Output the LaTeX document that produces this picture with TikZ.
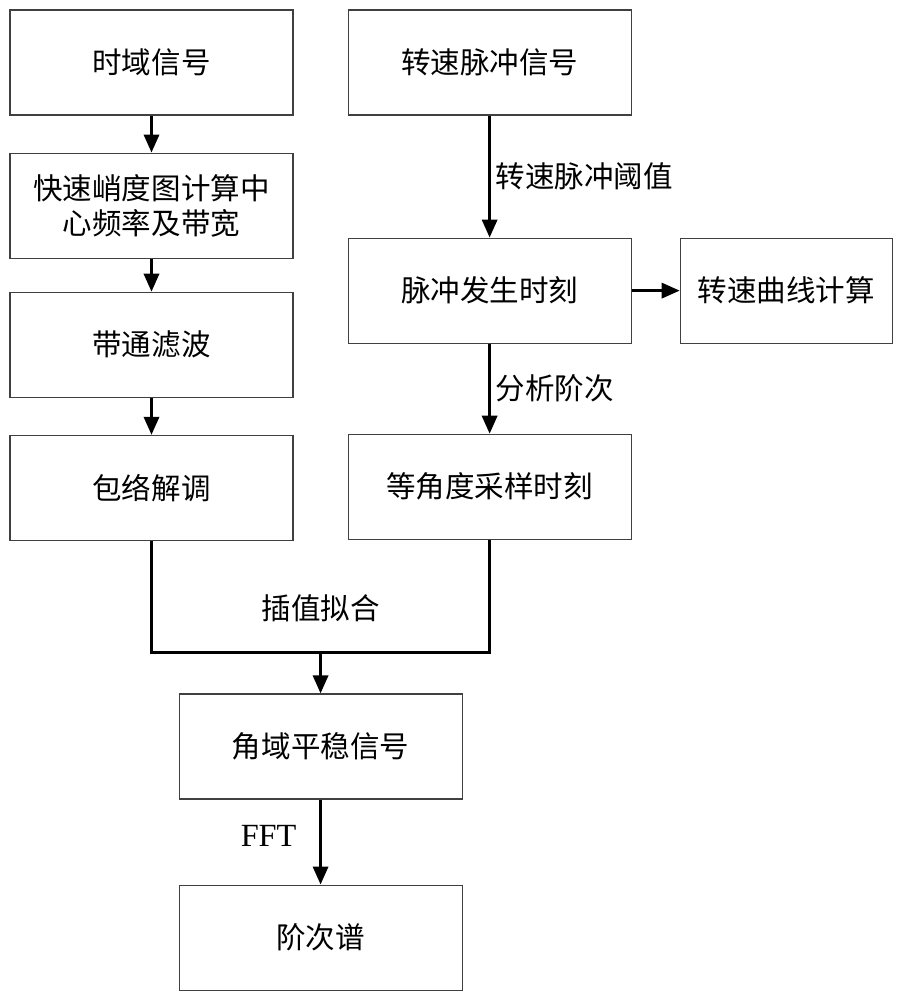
\documentclass[tikz,border=0pt]{standalone}
\usepackage{fontspec}
\setmainfont{Liberation Serif}
\newfontfamily\cjk{Noto Sans CJK SC}
\usetikzlibrary{arrows.meta, positioning, calc}

\begin{document}
\begin{tikzpicture}[
        node distance=1cm and 1.2cm,
        box/.style={rectangle, draw=black!75, line width=0.8pt, minimum width=7.075cm, minimum height=2.625cm, align=center, font=\cjk\fontsize{21}{25}\selectfont},
        lbl/.style={font=\cjk\fontsize{21}{25}\selectfont},
        arrow/.style={-{Triangle[length=0.45cm, width=0.38cm]}, line width=2pt},
        line/.style={line width=2pt}
    ]
        \useasboundingbox (0,0) rectangle (22.525,-25);

        % 1. Left column: vibration signal
        \node (sig) [box] at (3.7875,-1.5625) {时域信号};
        \node (kurt) [box, below=0.925cm of sig] {快速峭度图计算中\\心频率及带宽};
        \node (bpf) [box, below=0.825cm of kurt] {带通滤波};
        \node (env) [box, below=0.925cm of bpf] {包络解调};

        % 2. Right column: tacho pulses
        \node (rpm) [box, right=1.35cm of sig] {转速脉冲信号};
        \node (pulse) [box, below=3.05cm of rpm] {脉冲发生时刻};
        \node (curve) [box, minimum width=5.3cm, right=1.2cm of pulse] {转速曲线计算};
        \node (eqang) [box, below=2.25cm of pulse] {等角度采样时刻};

        % 3. Merge and order spectrum
        \coordinate (join) at ($(env.south)!0.5!(eqang.south)+(0,-2.8)$);
        \node (interp) [lbl, above=0.65cm of join] {插值拟合};
        \node (angsig) [box, below=1.025cm of join] {角域平稳信号};
        \node (order) [box, below=2.125cm of angsig] {阶次谱};

        % Connections
        \draw [arrow] (sig) -- (kurt);
        \draw [arrow] (kurt) -- (bpf);
        \draw [arrow] (bpf) -- (env);

        \draw [arrow] (rpm) -- node[lbl, right] {转速脉冲阈值} (pulse);
        \draw [arrow] (pulse) -- (curve);
        \draw [arrow] (pulse) -- node[lbl, right] {分析阶次} (eqang);

        \draw [line] (env) |- (join) -| (eqang);
        \draw [arrow] (join) -- (angsig);
        \draw [arrow] (angsig) -- node[lbl, left=0.45cm, yshift=0.15cm, font=\fontsize{23}{27}\selectfont] {FFT} (order);

    \end{tikzpicture}
\end{document}
